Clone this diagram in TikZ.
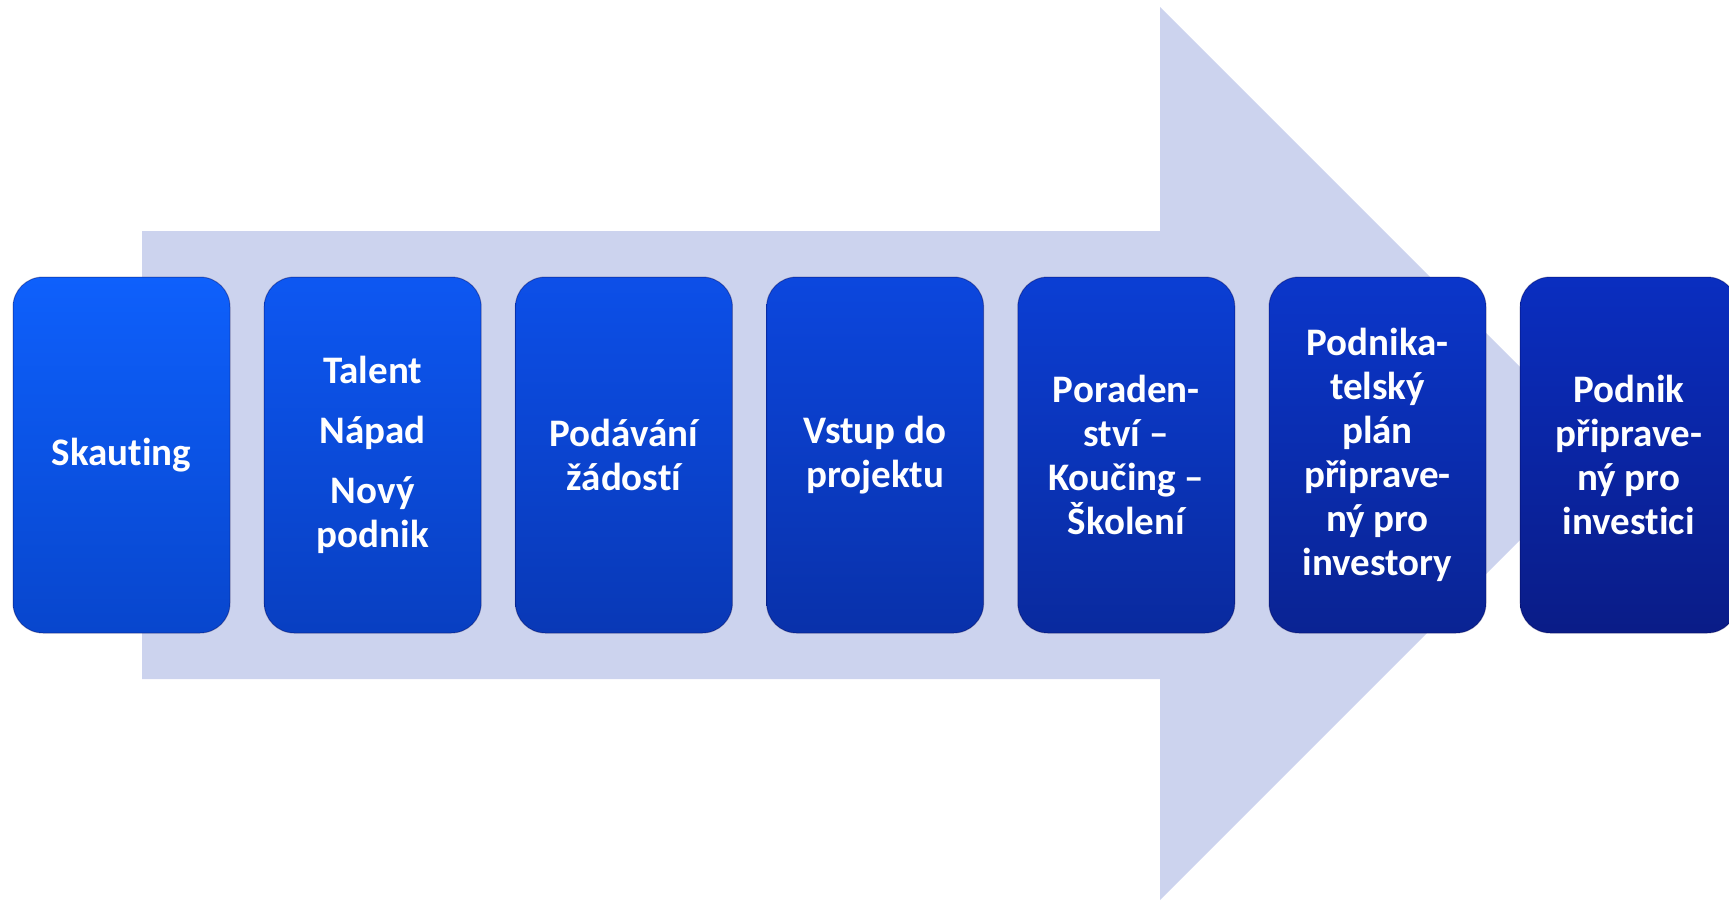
\documentclass[tikz,border=0pt]{standalone}
\usepackage{fontspec}
\setmainfont{Carlito}[Ligatures={NoCommon}]
\definecolor{arrowc}{RGB}{204,211,238}
\definecolor{tL}{RGB}{14,96,252}
\definecolor{bL}{RGB}{8,70,205}
\definecolor{tR}{RGB}{10,46,192}
\definecolor{bR}{RGB}{10,28,135}
\tikzset{
  stepbox/.style={rounded corners=30pt, minimum width=217pt, minimum height=356pt,
    inner sep=0pt, text width=205pt, align=flush center, text=white,
    font=\fontsize{39}{44}\selectfont\bfseries,
    draw=black!70!blue, draw opacity=0.35, line width=1pt},
}
\begin{document}
\begin{tikzpicture}[x=1pt,y=-1pt]
\useasboundingbox (0,0) rectangle (1729,900);
\clip (0,0) rectangle (1729,900);
\fill[arrowc] (142,231) -- (1160,231) -- (1160,7) -- (1606.5,453.5) -- (1160,900)
  -- (1160,679) -- (142,679) -- cycle;
\foreach \i/\txt in {0/{Skauting},
  1/{Talent\\[16pt]Nápad\\[16pt]Nový\\podnik},
  2/{Podávání\\žádostí},
  3/{Vstup do\\projektu},
  4/{Poraden-\\ství –\\Koučing –\\Školení},
  5/{Podnika-\\telský\\plán\\připrave-\\ný pro\\investory},
  6/{Podnik\\připrave-\\ný pro\\investici}} {
  \pgfmathtruncatemacro{\p}{round(\i*100/6)}
  \colorlet{ct}{tR!\p!tL}
  \colorlet{cb}{bR!\p!bL}
  \node[stepbox, top color=ct, bottom color=cb] (b\i) at (121.5+251.2*\i,455) {\txt};
}
\end{tikzpicture}
\end{document}
